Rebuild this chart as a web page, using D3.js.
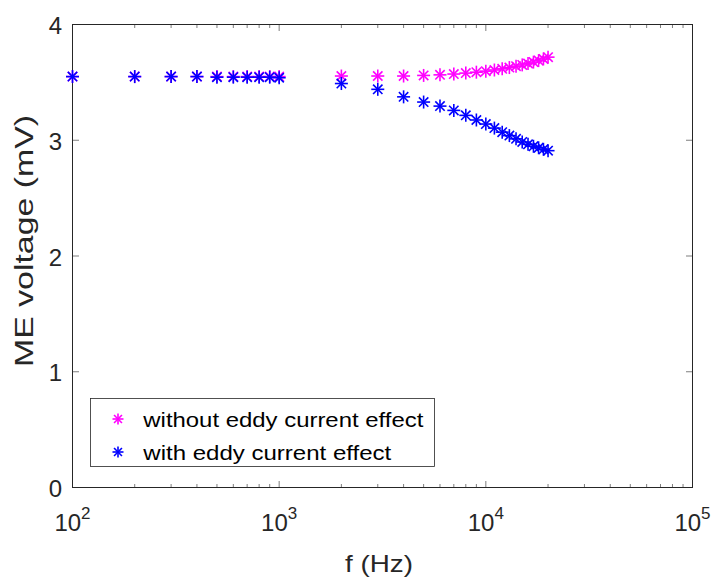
<!DOCTYPE html>
<html><head><meta charset="utf-8">
<script src="https://cdn.jsdelivr.net/npm/d3@7"></script>
<style>body{margin:0;background:#fff;}svg{display:block;font-family:"Liberation Sans",Arial,sans-serif;}</style>
</head><body>
<svg id="c" width="713" height="577"></svg>
<script>
const freqs = [100,200,300,400,500,600,700,800,900,1000,
  2000,3000,4000,5000,6000,7000,8000,9000,10000,11000,12000,13000,14000,15000,16000,17000,18000,19000,20000];
const withoutEddy = [3.55,3.55,3.55,3.55,3.55,3.55,3.55,3.55,3.55,3.55,
  3.555,3.555,3.555,3.56,3.565,3.572,3.58,3.588,3.597,3.607,3.617,3.628,3.64,3.651,3.663,3.675,3.688,3.702,3.718];
const withEddy = [3.55,3.55,3.55,3.55,3.545,3.545,3.545,3.545,3.545,3.54,
  3.49,3.44,3.375,3.33,3.295,3.258,3.215,3.175,3.14,3.105,3.07,3.04,3.012,2.985,2.965,2.948,2.935,2.922,2.91];
const xTicks = [100,1000,10000,100000];
const yTicks = [0,1,2,3,4];
const seriesNames = ["without eddy current effect","with eddy current effect"];
const seriesColors = ["#ff00ff","#0000ff"];

const svg = d3.select("#c");
const L=72.5, R=692.5, T=24.5, B=487.5;
const x = d3.scaleLog().domain([100,100000]).range([L,R]);
const y = d3.scaleLinear().domain([0,4]).range([B,T]);
const ink="#262626";

const minor=[];
for(let d=100; d<100000; d*=10) for(let k=2;k<=9;k++) minor.push(d*k);
const g=svg.append("g");
minor.forEach(v=>{
  g.append("line").attr("x1",x(v)).attr("x2",x(v)).attr("y1",B).attr("y2",B-3.5).attr("stroke",ink).attr("stroke-width",0.6);
  g.append("line").attr("x1",x(v)).attr("x2",x(v)).attr("y1",T).attr("y2",T+3.5).attr("stroke",ink).attr("stroke-width",0.6);
});
xTicks.forEach(v=>{
  g.append("line").attr("x1",x(v)).attr("x2",x(v)).attr("y1",B).attr("y2",B-6.5).attr("stroke",ink).attr("stroke-width",0.6);
  g.append("line").attr("x1",x(v)).attr("x2",x(v)).attr("y1",T).attr("y2",T+6.5).attr("stroke",ink).attr("stroke-width",0.6);
  const t=g.append("text").attr("x",x(v)).attr("y",531).attr("text-anchor","middle").attr("fill",ink).attr("font-size",24);
  t.append("tspan").text("10");
  t.append("tspan").attr("dy",-12).attr("font-size",17).text(Math.round(Math.log10(v)));
});
yTicks.forEach(v=>{
  g.append("line").attr("x1",L).attr("x2",L+6.5).attr("y1",y(v)).attr("y2",y(v)).attr("stroke",ink).attr("stroke-width",0.6);
  g.append("line").attr("x1",R).attr("x2",R-6.5).attr("y1",y(v)).attr("y2",y(v)).attr("stroke",ink).attr("stroke-width",0.6);
  g.append("text").attr("x",62).attr("y",y(v)+9.5).attr("text-anchor","end").attr("fill",ink).attr("font-size",24).text(v);
});
g.append("rect").attr("x",L).attr("y",T).attr("width",R-L).attr("height",B-T).attr("fill","none").attr("stroke",ink).attr("stroke-width",1);

svg.append("text").attr("x",379).attr("y",572).attr("text-anchor","middle").attr("fill",ink).attr("font-size",24)
  .attr("textLength",68).attr("lengthAdjust","spacingAndGlyphs").text("f (Hz)");
svg.append("text").attr("transform",`translate(33,241) rotate(-90)`).attr("text-anchor","middle").attr("fill",ink).attr("font-size",25)
  .attr("textLength",252).attr("lengthAdjust","spacingAndGlyphs").text("ME voltage (mV)");

function star(sel,cx,cy,color,r){
  const gg=sel.append("g").attr("transform",`translate(${cx},${cy})`).attr("stroke",color).attr("stroke-width",1.6).attr("fill","none");
  gg.append("line").attr("x1",-r).attr("x2",r).attr("y1",0).attr("y2",0);
  gg.append("line").attr("x1",0).attr("x2",0).attr("y1",-r).attr("y2",r);
  const d=r*0.72;
  gg.append("line").attr("x1",-d).attr("x2",d).attr("y1",-d).attr("y2",d);
  gg.append("line").attr("x1",-d).attr("x2",d).attr("y1",d).attr("y2",-d);
}
const pts=svg.append("g");
[withoutEddy,withEddy].forEach((s,i)=>{
  freqs.forEach((f,j)=>star(pts,x(f),y(s[j]),seriesColors[i],6.5));
});

const lg=svg.append("g");
lg.append("rect").attr("x",90.5).attr("y",398.5).attr("width",344).attr("height",68).attr("fill","#fff").attr("stroke",ink).attr("stroke-width",0.8);
const legLens=[280,248];
seriesNames.forEach((n,i)=>{
  const yy=419+i*33;
  star(lg,118,yy,seriesColors[i],5.5);
  lg.append("text").attr("x",143.3).attr("y",yy+7.5).attr("fill","#000").attr("font-size",21)
    .attr("textLength",legLens[i]).attr("lengthAdjust","spacingAndGlyphs").text(n);
});
</script>
</body></html>
